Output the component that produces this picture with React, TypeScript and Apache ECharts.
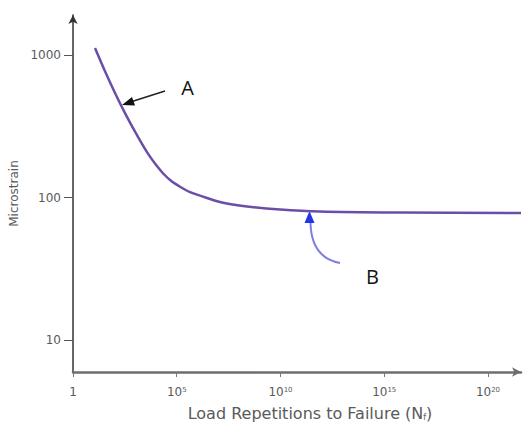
import React, { useEffect, useRef } from "react";
import * as echarts from "echarts";

// Load repetitions to failure (N_f) and the matching microstrain
const loadRepetitions = [11.5, 34.8, 106, 321, 973, 3680, 8950, 21700, 52800, 1.44e5, 4.35e5, 1.32e6, 1.51e7, 2.43e8, 9.5e9, 7.95e11, 5.7e15, 3.9e21];
const microstrain = [1120, 770, 542, 391, 290, 208, 173, 148, 131, 119, 109, 103, 92.2, 86.5, 82.4, 79.8, 78.5, 77.8];

const xTickValues = [1, 1e5, 1e10, 1e15, 1e20];
const yTickValues = [10, 100, 1000];

const AXIS_FONT = "DejaVu Sans, Verdana, sans-serif";
const LABEL_COLOR = "#5a5a5a";

export default function App() {
  const ref = useRef<HTMLDivElement>(null);
  useEffect(() => {
    document.body.style.margin = "0";
    const chart = echarts.init(ref.current!, null, { renderer: "svg" });
    const data = loadRepetitions.map((n, i) => [n, microstrain[i]]);
    chart.setOption({
      animation: false,
      backgroundColor: "#ffffff",
      grid: { left: 73, right: 2, top: 15, bottom: 55, containLabel: false, outerBoundsMode: "none" },
      xAxis: {
        type: "log",
        logBase: 10,
        min: 1,
        max: 3.9e21,
        name: "{b|Load Repetitions to Failure (N}{sub|f}{b|)}",
        nameLocation: "middle",
        nameGap: 33,
        nameTextStyle: {
          fontFamily: AXIS_FONT,
          fontSize: 16,
          color: LABEL_COLOR,
          padding: [0, 0, 0, 26],
          rich: {
            b: { fontSize: 16, fontFamily: AXIS_FONT, color: LABEL_COLOR },
            sub: { fontSize: 8, verticalAlign: "bottom", fontFamily: AXIS_FONT, color: LABEL_COLOR },
          },
        },
        splitLine: { show: false },
        axisLine: { show: true, symbol: ["none", "arrow"], symbolSize: [7, 9], lineStyle: { color: "#6e6e6e", width: 2.5 } },
        axisTick: { show: true, length: 5, customValues: xTickValues, lineStyle: { color: "#777", width: 1 } },
        axisLabel: {
          customValues: xTickValues,
          margin: 14,
          fontFamily: AXIS_FONT,
          fontSize: 12,
          color: LABEL_COLOR,
          formatter: (v: number) => {
            const e = Math.round(Math.log10(v));
            return e === 0 ? "{b|1}" : "{b|10}{sup|" + e + "}";
          },
          rich: {
            b: { fontSize: 12, fontFamily: AXIS_FONT, color: LABEL_COLOR },
            sup: { fontSize: 7, verticalAlign: "top", fontFamily: AXIS_FONT, color: LABEL_COLOR, padding: [0, 0, 5, 0] },
          },
        },
      },
      yAxis: {
        type: "log",
        logBase: 10,
        min: 5.96,
        max: 1910,
        name: "Microstrain",
        nameLocation: "middle",
        nameRotate: 90,
        nameGap: 40,
        nameTextStyle: { fontFamily: AXIS_FONT, fontSize: 12, color: LABEL_COLOR },
        splitLine: { show: false },
        axisLine: { show: true, symbol: ["none", "arrow"], symbolSize: [7, 9], lineStyle: { color: "#333", width: 1.5 } },
        axisTick: { show: true, length: 9, customValues: yTickValues, lineStyle: { color: "#555", width: 1 } },
        axisLabel: {
          customValues: yTickValues,
          margin: 12,
          fontFamily: AXIS_FONT,
          fontSize: 12,
          color: LABEL_COLOR,
          formatter: (v: number) => String(Math.round(v)),
        },
      },
      series: [
        {
          type: "line",
          data,
          smooth: 0.3,
          showSymbol: false,
          lineStyle: { color: "#6b4ea8", width: 2.5 },
        },
      ],
      graphic: [
        { type: "line", shape: { x1: 165, y1: 91, x2: 132, y2: 101.5 }, style: { stroke: "#222", lineWidth: 1.5 } },
        { type: "polygon", shape: { points: [[122, 105], [135, 105.5], [132, 97]] }, style: { fill: "#111" } },
        { type: "text", x: 187.5, y: 87, style: { text: "A", fontSize: 20, fontFamily: "Open Sans, Arial, sans-serif", fill: "#111", align: "center", verticalAlign: "middle" } },
        { type: "bezierCurve", shape: { x1: 340, y1: 263, cpx1: 318, cpy1: 259, cpx2: 311, cpy2: 242, x2: 310.5, y2: 223 }, style: { stroke: "#7d7de2", lineWidth: 2, fill: null } },
        { type: "polygon", shape: { points: [[309.5, 211], [304.5, 223], [314.5, 223]] }, style: { fill: "#1f35e8" } },
        { type: "text", x: 372.5, y: 276, style: { text: "B", fontSize: 20, fontFamily: "Open Sans, Arial, sans-serif", fill: "#111", align: "center", verticalAlign: "middle" } },
      ],
    });
    return () => chart.dispose();
  }, []);
  return <div ref={ref} style={{ width: 523, height: 427 }} />;
}
